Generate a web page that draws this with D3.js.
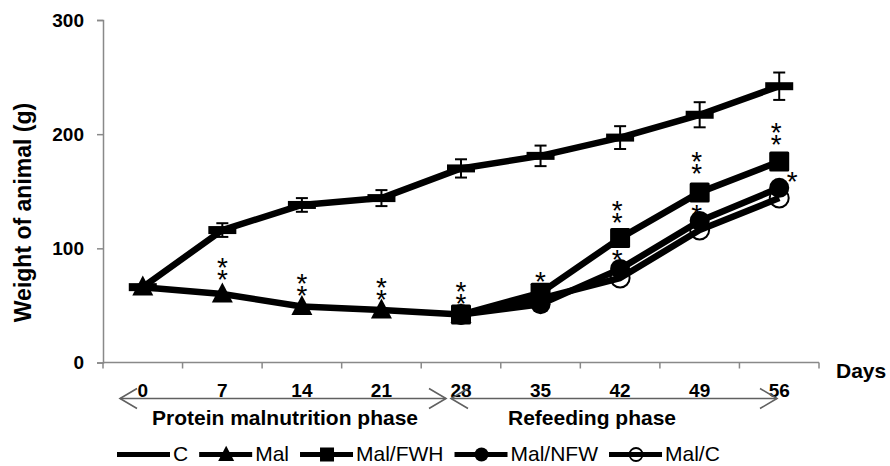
<!DOCTYPE html>
<html>
<head>
<meta charset="utf-8">
<script src="https://cdn.jsdelivr.net/npm/d3@7/dist/d3.min.js"></script>
<style>
  html, body { margin: 0; padding: 0; background: #fff; }
  svg { display: block; font-family: "Liberation Sans", Arial, sans-serif; }
</style>
</head>
<body>
<svg id="chart" width="890" height="466"></svg>
<script>
// ---------- data ----------
const days = ["0", "7", "14", "21", "28", "35", "42", "49", "56"];
const controlValues = [66, 116, 138, 144, 170, 181, 197, 217, 242];
const controlErrors = [2, 6, 6, 7, 8, 9, 10, 11, 12];
const malValues     = [66, 60, 49, 46, 42, null, null, null, null];
const malFwhValues  = [null, null, null, null, 42, 61, 109, 149, 176];
const malNfwValues  = [null, null, null, null, 42, 51, 82, 124, 153];
const malCValues    = [null, null, null, null, 42, 56, 74, 116, 144];
const yTickValues = [0, 100, 200, 300];
const seriesNames = ["C", "Mal", "Mal/FWH", "Mal/NFW", "Mal/C"];
const phaseLabels = ["Protein malnutrition phase", "Refeeding phase"];
// significance marks: day, value at highest asterisk, number of asterisks, side
const sigDays   = ["7", "14", "21", "28", "35", "42", "42", "49", "49", "56", "56"];
const sigValues = [88.5, 75, 71.5, 68, 76.5, 138.5, 96, 181.5, 135, 207.5, 164];
const sigCounts = [2, 2, 2, 2, 1, 2, 1, 2, 1, 2, 1];
const sigSide   = ["top", "top", "top", "top", "top", "top", "top", "top", "top", "top", "right"];

// ---------- layout ----------
const svg = d3.select("#chart");
const axisColor = "#898989";
const x = d3.scaleBand().domain(days).range([103, 819]).padding(0);
const y = d3.scaleLinear().domain([0, 300]).range([362.5, 20]);
const cx = d => x(d) + x.bandwidth() / 2;

// y axis
const yAxis = svg.append("g").attr("transform", "translate(103,0)")
  .call(d3.axisLeft(y).tickValues(yTickValues).tickSize(6).tickPadding(13));
yAxis.select(".domain").attr("stroke", axisColor).attr("stroke-width", 1.5);
yAxis.selectAll(".tick line").attr("stroke", axisColor).attr("stroke-width", 1.5);
yAxis.selectAll(".tick text").attr("fill", "#000").attr("font-size", 19)
  .attr("font-weight", "bold").attr("font-family", "Liberation Sans, Arial, sans-serif");

// x axis (ticks between categories)
const xg = svg.append("g");
xg.append("line").attr("x1", 103).attr("x2", 819).attr("y1", y(0)).attr("y2", y(0))
  .attr("stroke", axisColor).attr("stroke-width", 1.5);
const edges = days.map(d => x(d)).concat([x(days[days.length - 1]) + x.bandwidth()]);
xg.selectAll("line.tk").data(edges).enter().append("line").attr("class", "tk")
  .attr("x1", d => d).attr("x2", d => d).attr("y1", y(0)).attr("y2", y(0) + 6)
  .attr("stroke", axisColor).attr("stroke-width", 1.5);
xg.selectAll("text").data(days).enter().append("text")
  .attr("x", d => cx(d)).attr("y", 397).attr("text-anchor", "middle")
  .attr("font-size", 19).attr("font-weight", "bold").text(d => d);

// phase arrows
const arrowColor = "#606060";
function dblArrow(x1, x2, yy) {
  const g = svg.append("g").attr("stroke", arrowColor).attr("stroke-width", 1.6).attr("fill", "none");
  g.append("line").attr("x1", x1).attr("x2", x2).attr("y1", yy).attr("y2", yy);
  g.append("path").attr("d", `M${x1 + 17},${yy - 10}L${x1},${yy}L${x1 + 17},${yy + 10}`);
  g.append("path").attr("d", `M${x2 - 17},${yy - 10}L${x2},${yy}L${x2 - 17},${yy + 10}`);
}
dblArrow(120, 446, 398.5);
dblArrow(451, 777, 398.5);

svg.append("text").attr("x", 152).attr("y", 425).attr("font-size", 21).attr("font-weight", "bold").text(phaseLabels[0]);
svg.append("text").attr("x", 508).attr("y", 425).attr("font-size", 21).attr("font-weight", "bold").text(phaseLabels[1]);

svg.append("text").attr("x", 836).attr("y", 378).attr("font-size", 21).attr("font-weight", "bold").text("Days");

svg.append("text").attr("transform", "translate(31,212.5) rotate(-90)")
  .attr("text-anchor", "middle").attr("font-size", 23).attr("font-weight", "bold")
  .text("Weight of animal (g)");

// ---------- series ----------
const plot = svg.append("g");
const lineGen = d3.line().defined(d => d.v != null).x(d => cx(d.day)).y(d => y(d.v));
function toPts(vals) { return days.map((d, i) => ({ day: d, v: vals[i] })).filter(p => p.v != null); }
const LW = 6.5;

function drawLine(vals) {
  plot.append("path").datum(toPts(vals)).attr("d", lineGen)
    .attr("fill", "none").attr("stroke", "#000").attr("stroke-width", LW).attr("stroke-linejoin", "round");
}
const triPath = (px, py, s) => `M${px},${py - s * 0.55}L${px + s / 2},${py + s * 0.4}L${px - s / 2},${py + s * 0.4}Z`;

// C
drawLine(controlValues);
const cPts = toPts(controlValues).map((p, i) => ({ ...p, e: controlErrors[i] }));
plot.selectAll("rect.cm").data(cPts).enter().append("rect").attr("class", "cm")
  .attr("x", d => cx(d.day) - 14).attr("y", d => y(d.v) - 4).attr("width", 28).attr("height", 8).attr("fill", "#000");
const eb = plot.append("g").attr("stroke", "#000").attr("stroke-width", 2);
cPts.forEach(d => {
  const X = cx(d.day);
  eb.append("line").attr("x1", X).attr("x2", X).attr("y1", y(d.v - d.e)).attr("y2", y(d.v + d.e));
  eb.append("line").attr("x1", X - 6).attr("x2", X + 6).attr("y1", y(d.v + d.e)).attr("y2", y(d.v + d.e));
  eb.append("line").attr("x1", X - 6).attr("x2", X + 6).attr("y1", y(d.v - d.e)).attr("y2", y(d.v - d.e));
});

// Mal
drawLine(malValues);
plot.selectAll("path.tri").data(toPts(malValues)).enter().append("path").attr("class", "tri")
  .attr("d", d => triPath(cx(d.day), y(d.v), 21)).attr("fill", "#000");

// Mal/FWH
drawLine(malFwhValues);
plot.selectAll("rect.sq").data(toPts(malFwhValues)).enter().append("rect").attr("class", "sq")
  .attr("x", d => cx(d.day) - 10).attr("y", d => y(d.v) - 10).attr("width", 20).attr("height", 20)
  .attr("rx", 1.5).attr("fill", "#000");

// Mal/NFW
drawLine(malNfwValues);
plot.selectAll("circle.nfw").data(toPts(malNfwValues)).enter().append("circle").attr("class", "nfw")
  .attr("cx", d => cx(d.day)).attr("cy", d => y(d.v)).attr("r", 10).attr("fill", "#000");

// Mal/C
drawLine(malCValues);
plot.selectAll("circle.mc").data(toPts(malCValues)).enter().append("circle").attr("class", "mc")
  .attr("cx", d => cx(d.day)).attr("cy", d => y(d.v)).attr("r", 9.5)
  .attr("fill", "none").attr("stroke", "#000").attr("stroke-width", 2);

// significance asterisks (stacked asterisks in one text element)
const sg = svg.append("g").attr("font-size", 28).attr("text-anchor", "middle");
sigDays.forEach((d, i) => {
  const baseX = cx(d) + (sigSide[i] === "right" ? 13 : (+d > 35 ? -3 : 0));
  const t = sg.append("text").attr("x", baseX).attr("y", y(sigValues[i]) + 16);
  for (let k = 0; k < sigCounts[i]; k++) {
    t.append("tspan").attr("x", baseX).attr("dy", k === 0 ? 0 : 12).text("*");
  }
});

// ---------- legend ----------
const lg = svg.append("g").attr("font-size", 21);
let lx = 117;
const ly = 454.5;
seriesNames.forEach((name, i) => {
  const g = lg.append("g");
  g.append("line").attr("x1", lx).attr("x2", lx + 53).attr("y1", ly).attr("y2", ly)
    .attr("stroke", "#000").attr("stroke-width", 5);
  const mx = lx + 27;
  if (i === 1) g.append("path").attr("d", triPath(mx, ly, 16)).attr("fill", "#000");
  if (i === 2) g.append("rect").attr("x", mx - 7).attr("y", ly - 7).attr("width", 14).attr("height", 14).attr("fill", "#000");
  if (i === 3) g.append("circle").attr("cx", mx).attr("cy", ly).attr("r", 7).attr("fill", "#000");
  if (i === 4) g.append("circle").attr("cx", mx).attr("cy", ly).attr("r", 6.5).attr("fill", "none").attr("stroke", "#000").attr("stroke-width", 1.8);
  const t = g.append("text").attr("x", lx + 56).attr("y", 461).text(name);
  lx = lx + 56 + t.node().getComputedTextLength() + 11;
});
</script>
</body>
</html>
